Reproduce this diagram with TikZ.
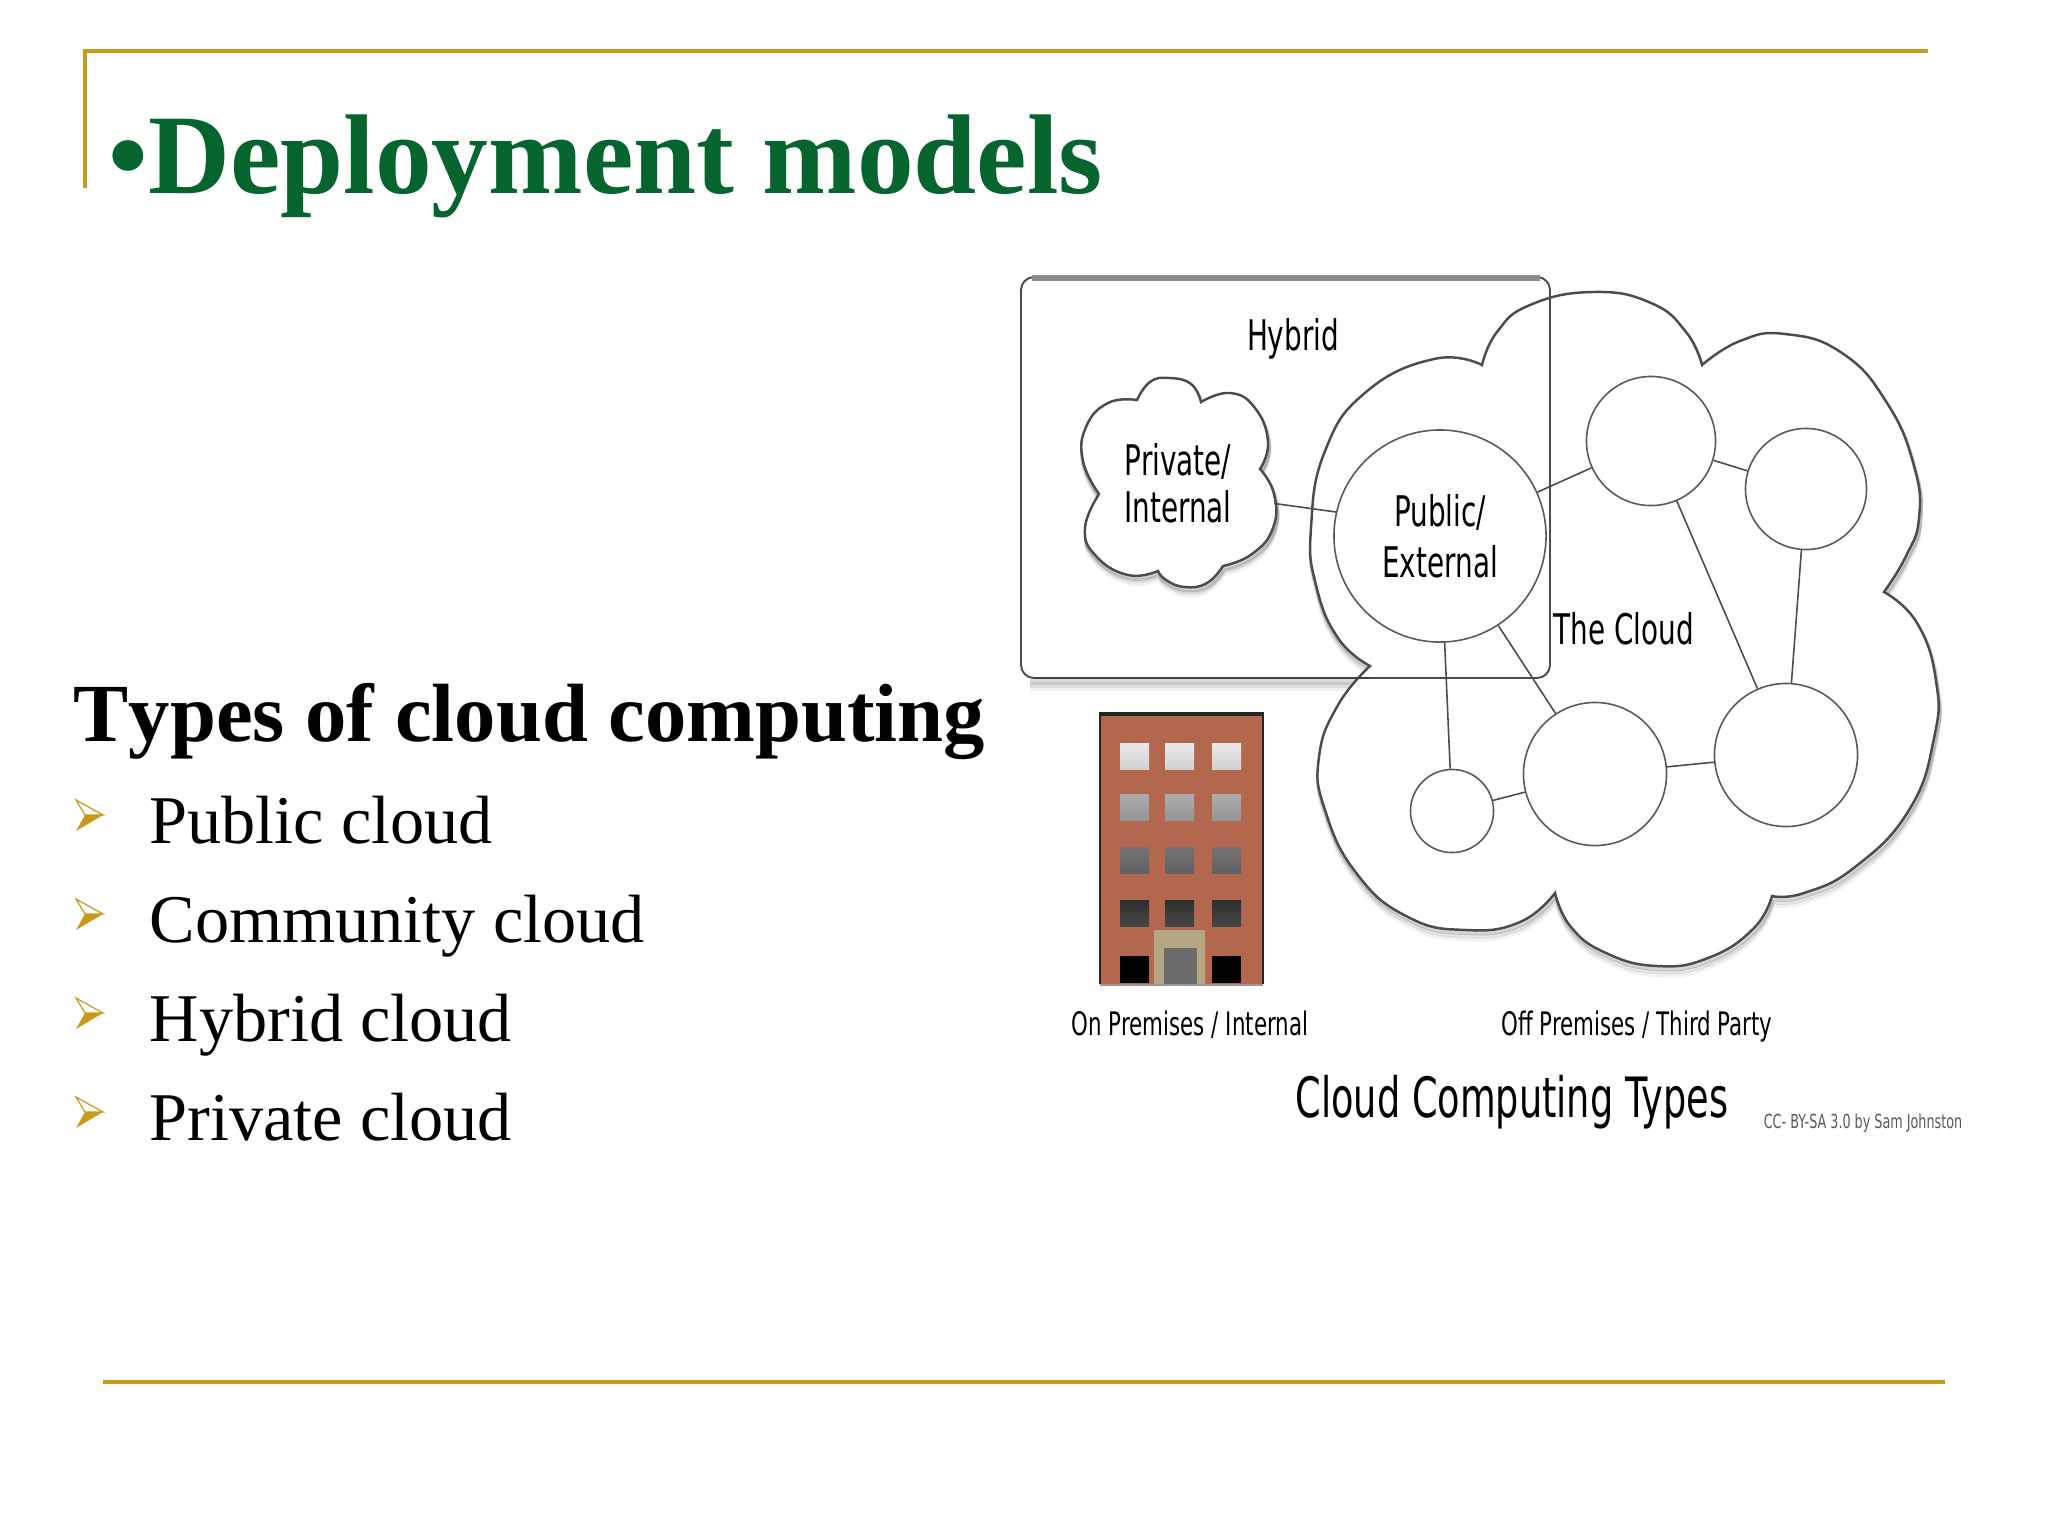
\documentclass[tikz,border=0pt]{standalone}
\usepackage{fontspec}
\setmainfont[Kerning=Off]{Liberation Serif}
\newfontfamily\vera[FakeStretch=0.66]{DejaVu Sans}
\definecolor{gold}{HTML}{C99A1A}
\definecolor{titlegreen}{HTML}{06642F}
\definecolor{brick}{HTML}{B4674F}
\definecolor{doorframe}{HTML}{B5A684}
\newcommand{\bigcloud}{plot[smooth,tension=0.8] coordinates {(1370,666) (1338,638) (1316,585) (1311,528) (1325,451) (1366,392) (1434,359) (1482,365)}
 -- plot[smooth,tension=0.8] coordinates {(1482,365) (1497,332) (1530,305) (1593,292) (1651,303) (1686,332) (1702,365)}
 -- plot[smooth,tension=0.8] coordinates {(1702,365) (1740,341) (1785,334) (1842,353) (1887,403) (1914,466) (1919,518) (1906,556) (1884,592)}
 -- plot[smooth,tension=0.8] coordinates {(1884,592) (1917,623) (1936,681) (1934,738) (1909,810) (1855,867) (1804,893) (1772,896)}
 -- plot[smooth,tension=0.8] coordinates {(1772,896) (1753,929) (1708,958) (1657,966) (1606,953) (1571,927) (1555,893)}
 -- plot[smooth,tension=0.8] coordinates {(1555,893) (1520,922) (1466,930) (1408,917) (1357,874) (1325,810) (1319,757) (1338,705) (1370,666)} -- cycle}
\newcommand{\smallcloud}{plot[smooth,tension=0.8] coordinates {(1099,494) (1083,461) (1086,427) (1108,403) (1137,400)}
 -- plot[smooth,tension=0.8] coordinates {(1137,400) (1150,382) (1169,378) (1191,384) (1201,402)}
 -- plot[smooth,tension=0.8] coordinates {(1201,402) (1230,393) (1255,408) (1268,442) (1260,469)}
 -- plot[smooth,tension=0.8] coordinates {(1260,469) (1274,494) (1273,528) (1252,554) (1223,566)}
 -- plot[smooth,tension=0.8] coordinates {(1223,566) (1207,583) (1185,587) (1166,580) (1158,571)}
 -- plot[smooth,tension=0.8] coordinates {(1158,571) (1128,575) (1096,556) (1085,528) (1099,494)} -- cycle}
\tikzset{
 rule/.style={draw=gold,line width=0.9pt},
 hub/.style={circle,draw=black!65,line width=0.45pt,fill=white,inner sep=0pt},
 link/.style={draw=black!70,line width=0.45pt},
 label/.style={inner sep=0pt,align=center,font=\vera\fontsize{12}{13.4}\selectfont},
 caption/.style={inner sep=0pt,font=\vera\fontsize{9.2}{11}\selectfont},
 listitem/.style={anchor=base west,inner sep=0pt,font=\fontsize{19.42}{23}\selectfont},
}
\begin{document}
\begin{tikzpicture}[x=0.01cm,y=-0.01cm]
 \useasboundingbox (0,0) rectangle (2048,1536);
 \fill[white] (0,0) rectangle (2048,1536);

 % frame of the slide
 \draw[rule] (85,188) -- (85,51) -- (1928,51);
 \draw[rule] (103,1382) -- (1945,1382);

 \node[anchor=base west,inner sep=0pt,text=titlegreen,font=\bfseries\fontsize{32.25}{38}\selectfont] (title) at (108,193) {•Deployment models};
 \node[anchor=base west,inner sep=0pt,font=\bfseries\fontsize{23.5}{28}\selectfont] (types) at (73,741) {Types of cloud computing};

 \foreach \ly/\lname [count=\i] in {843/Public cloud,942/Community cloud,1041/Hybrid cloud,1140/Private cloud} {
  \node[listitem] (item\i) at (149,\ly) {\lname};
  \begin{scope}[yshift=\ly*-0.01cm]
   \draw[gold,line width=0.35pt] (76,-43) -- (103,-28) -- (85,-28) -- cycle;
   \fill[gold] (76,-12) -- (103,-28) -- (85,-28) -- cycle;
  \end{scope}
 }

 % shadows first, the hybrid box goes over the cloud
 \foreach \dy/\op in {10/0.05,7/0.08,4/0.14}
  \draw[black,line width=1.5pt,opacity=\op] (1030,678+\dy) -- (1545,678+\dy);
 \foreach \dx/\dy/\op in {1/9/0.05,1/6/0.09,1/3/0.16}
  \draw[black,line width=1.2pt,opacity=\op,shift={(\dx,\dy)}] \bigcloud;
 \draw[fill=white,draw=black!70,line width=0.7pt] \bigcloud;

 \draw[draw=black!70,line width=0.55pt,rounded corners=0.13cm] (1021,277) rectangle (1550,678);
 \draw[draw=black!45,line width=1.5pt] (1032,278) -- (1540,278);
 \draw[draw=black!75,line width=0.8pt] (1035,678) -- (1370,678);

 \foreach \dx/\dy/\op in {1/8/0.06,1/5/0.1,1/3/0.18}
  \draw[black,line width=1.2pt,opacity=\op,shift={(\dx,\dy)}] \smallcloud;
 \draw[fill=white,draw=black!70,line width=0.7pt] \smallcloud;

 \node[label,minimum width=1.91cm,minimum height=2.1cm] (private) at (1178,483) {Private/\\Internal};
 \node[hub,minimum size=2.12cm] (public) at (1440,536) {};
 \node[label,font=\vera\fontsize{12}{14.6}\selectfont] (publictext) at (1440,536) {Public/\\External};
 \node[hub,minimum size=1.29cm] (top) at (1651,441) {};
 \node[hub,minimum size=1.21cm] (right) at (1806,489) {};
 \node[hub,minimum size=1.43cm] (lowright) at (1786,755) {};
 \node[hub,minimum size=1.43cm] (mid) at (1595,774) {};
 \node[hub,minimum size=0.83cm] (small) at (1452,811) {};

 \path[link] (private.-12) edge (public.167)
  (public) edge (top)
           edge (mid)
           edge (small)
  (top) edge (right)
        edge (lowright)
  (right) edge (lowright)
  (mid) edge (lowright)
        edge (small);

 \node[label] (hybrid) at (1293,339) {Hybrid};
 \node[label] (thecloud) at (1624,629) {The Cloud};

 % building
 \fill[brick] (1100,712) rectangle (1263,984);
 \draw[black!85,line width=0.7pt] (1100,984) -- (1100,713) -- (1263,713) -- (1263,984);
 \draw[black!85,line width=1.1pt] (1100,714) -- (1263,714);
 \draw[black!40,line width=0.6pt] (1100,985) -- (1263,985);
 \foreach \wx in {1120,1165,1212} {
  \foreach \wy/\wtop/\wbot in {743/black!8/black!18,794/black!32/black!42,847/black!55/black!62,900/black!82/black!72}
   \fill[top color=\wtop,bottom color=\wbot] (\wx,\wy) rectangle ++(29,26);
 }
 \fill[black] (1120,956) rectangle ++(29,27);
 \fill[black] (1212,956) rectangle ++(29,27);
 \fill[doorframe] (1154,930) rectangle (1205,984);
 \fill[black!58] (1164,948) rectangle (1197,984);

 \node[caption] (onprem) at (1190,1025) {On Premises / Internal};
 \node[caption] (offprem) at (1637,1027) {Off Premises / Third Party};
 \node[inner sep=0pt,font=\vera\fontsize{15.8}{18}\selectfont] (types2) at (1512,1102) {Cloud Computing Types};
 \node[inner sep=0pt,text=black!65,font=\vera\fontsize{5.5}{7}\selectfont] (credit) at (1863,1123) {CC- BY-SA 3.0 by Sam Johnston};
\end{tikzpicture}
\end{document}
